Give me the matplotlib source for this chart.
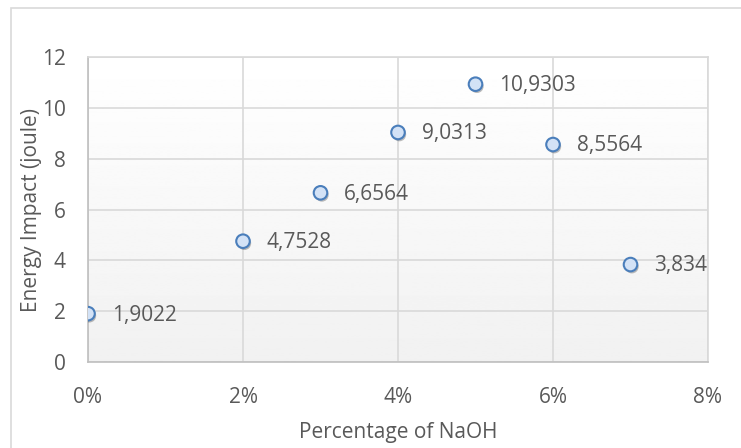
import numpy as np
import matplotlib.pyplot as plt
from matplotlib.ticker import PercentFormatter, MultipleLocator
import matplotlib.patheffects as pe

# data
naoh = [0.00, 0.02, 0.03, 0.04, 0.05, 0.06, 0.07]
energy = [1.9022, 4.7528, 6.6564, 9.0313, 10.9303, 8.5564, 3.834]
labels = ["1,9022", "4,7528", "6,6564", "9,0313", "10,9303", "8,5564", "3,834"]

plt.rcParams['font.family'] = ['Open Sans', 'DejaVu Sans']
txt = '#595959'
grid_c = '#d9d9d9'

fig = plt.figure(figsize=(7.41, 4.48), dpi=100)
# outer chart border (left/top visible)
fig.add_artist(plt.Rectangle((11/741, -0.1), 1.2, 1 - 8/448 + 0.1, transform=fig.transFigure,
                             fill=False, edgecolor='#d9d9d9', linewidth=1.2))

ax = fig.add_axes([88/741, 86/448, 620/741, 305/448])

# light gradient in plot area
grad = np.linspace(1.0, 0.945, 256).reshape(-1, 1)
ax.imshow(grad, cmap='gray', vmin=0, vmax=1, aspect='auto', extent=(0, 1, 0, 1),
          transform=ax.transAxes, zorder=0)

ax.scatter(naoh, energy, s=95, facecolor='#d3e2f6', edgecolor='#4a7ebb', linewidth=1.5, zorder=3,
           path_effects=[pe.SimplePatchShadow(offset=(1, -1.5), shadow_rgbFace='#404040', alpha=0.35),
                         pe.Normal()])

for x, y, s in zip(naoh, energy, labels):
    ax.annotate(s, (x, y), xytext=(17, -1), textcoords='offset points', va='center', ha='left',
                fontsize=15, color=txt, zorder=4)

ax.set_xlim(0, 0.08)
ax.set_ylim(0, 12)
ax.xaxis.set_major_locator(MultipleLocator(0.02))
ax.yaxis.set_major_locator(MultipleLocator(2))
ax.xaxis.set_major_formatter(PercentFormatter(1.0, decimals=0))
ax.grid(True, color=grid_c, linewidth=1.2, zorder=1)
ax.set_axisbelow(True)

for side in ['top', 'right']:
    ax.spines[side].set_color(grid_c)
    ax.spines[side].set_linewidth(1.2)
for side in ['left', 'bottom']:
    ax.spines[side].set_color('#bfbfbf')
    ax.spines[side].set_linewidth(1.2)

ax.tick_params(length=0, labelsize=15, labelcolor=txt)
ax.tick_params(axis='x', pad=18)
ax.tick_params(axis='y', pad=16)

ax.set_xlabel('Percentage of NaOH', fontsize=15, color=txt, labelpad=10)
ax.set_ylabel('Energy Impact (joule)', fontsize=15, color=txt, labelpad=0)

fig.savefig('out.png', dpi=100)
